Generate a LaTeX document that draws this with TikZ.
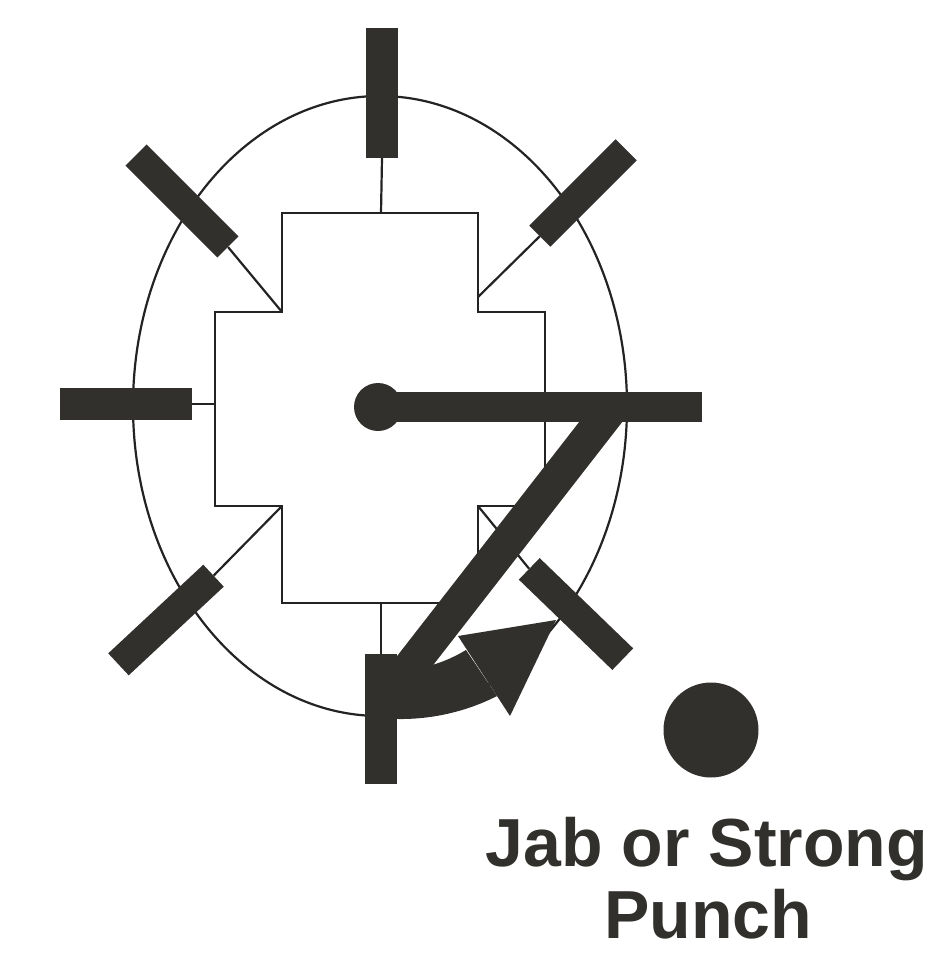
\documentclass[tikz,border=0pt]{standalone}
\usepackage{fontspec}
\setmainfont{Liberation Sans}
\definecolor{ink}{RGB}{50,48,45}
\definecolor{thinink}{RGB}{35,35,35}
\tikzset{
  bar/.style={fill=ink, draw=none, inner sep=0pt, minimum height=30pt, minimum width=130pt},
  vbar/.style={fill=ink, draw=none, inner sep=0pt, minimum width=32pt, minimum height=130pt},
  thinline/.style={draw=thinink, line width=2.2pt},
  heavy/.style={fill=ink, draw=none},
  label/.style={font=\bfseries\fontsize{68}{72}\selectfont, text=ink, anchor=base, inner sep=0pt}
}
\begin{document}
\begin{tikzpicture}[x=1pt,y=-1pt]
\useasboundingbox (0,0) rectangle (935,954);
% ellipse
\draw[thinline] (380,406) ellipse [x radius=247, y radius=310];
% cross corners
\coordinate (c1) at (282,213); \coordinate (c2) at (478,213);
\coordinate (c3) at (478,312); \coordinate (c4) at (545,312);
\coordinate (c5) at (545,506); \coordinate (c6) at (478,506);
\coordinate (c7) at (478,603); \coordinate (c8) at (282,603);
\coordinate (c9) at (282,506); \coordinate (c10) at (215,506);
\coordinate (c11) at (215,312); \coordinate (c12) at (282,312);
\draw[thinline, line join=miter] (c1) -- (c2) -- (c3) -- (c4) -- (c5) -- (c6) -- (c7) -- (c8) -- (c9) -- (c10) -- (c11) -- (c12) -- cycle;
\coordinate (topmid) at (381,213);
\coordinate (leftmid) at (215,404);
\coordinate (botmid) at (381,603);
\coordinate (urc) at (478,297);
% bars
\node[vbar] (tb) at (382,93) {};
\node[bar, minimum width=132pt, minimum height=32pt] (lb) at (126,404) {};
\node[vbar, minimum height=130pt] (bb) at (381,719) {};
\node[bar, rotate=-45] (ul) at (182,201) {};
\node[bar, rotate=45, minimum width=122pt] (ur) at (583,193) {};
\node[bar, rotate=43] (ll) at (166,620) {};
\node[bar, rotate=-44] (lr) at (576,614) {};
% connectors
\draw[thinline] (tb.south) -- (topmid);
\draw[thinline] (lb.east) -- (leftmid);
\draw[thinline] (bb.north) -- (botmid);
\draw[thinline] (ul.east) -- (c12);
\draw[thinline] (ur.west) -- (urc);
\draw[thinline] (ll.east) -- (c9);
\draw[thinline] (lr.west) -- (c6);
% the "7" move
\node[circle, fill=ink, minimum size=48pt, inner sep=0pt] (ball) at (378,407) {};
\fill[ink] (378,392) rectangle (702,422);
\draw[ink, line width=34pt] (610,410) -- (400,680);
% curved arrow
\fill[ink] (381,672) .. controls (420,672) and (446,662) .. (466,650)
  -- (497,696) .. controls (462,714) and (420,722) .. (381,718) -- cycle;
\fill[ink] (458,636) -- (556,620) -- (510,716) -- cycle;
% dot
\node[circle, fill=ink, minimum size=95pt, inner sep=0pt] (dot) at (711,730) {};
% label
\node[label] (t1) at (707,866) {Jab or Strong};
\node[label] (t2) at (708,938) {Punch};
\end{tikzpicture}
\end{document}
